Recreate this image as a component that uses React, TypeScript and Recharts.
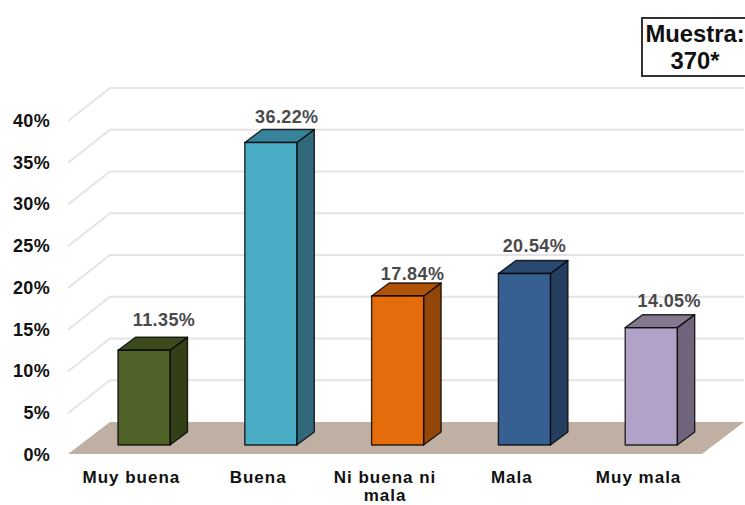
import React from "react";
import { BarChart, Bar, XAxis, YAxis, CartesianGrid, LabelList } from "recharts";

const categories = ["Muy buena", "Buena", "Ni buena ni mala", "Mala", "Muy mala"];
const values = [11.35, 36.22, 17.84, 20.54, 14.05];
const yTicks = [0, 5, 10, 15, 20, 25, 30, 35, 40];
const sampleLines = ["Muestra:", "370*"];

const frontColors = ["#4F6228", "#4BACC6", "#E46C0A", "#376092", "#B3A2C7"];
const sideColors = ["#333F17", "#31697A", "#93460A", "#233E5F", "#6F647C"];
const topColors = ["#3C4A1E", "#388399", "#AF5308", "#2A4970", "#84788F"];
const labelNudgeX = [20, 16, 15, 10, 18];
const labelNudgeY = [30, 26, 22, 27, 27];

const data = categories.map((name, i) => ({ name, value: values[i] }));

const FONT = '"Liberation Sans", Arial, sans-serif';
const PLOT_BOTTOM = 454;
const DEPTH_X = 42;
const DEPTH_Y = 32;
const BAR_DX = 17.5;
const BAR_DY = 13;
const SHIFT_X = 13;
const SHIFT_Y = 9;
const MAX_LINE_CHARS = 12;

const wrapWords = (label: string) => {
  const lines: string[] = [];
  label.split(" ").forEach((word) => {
    const last = lines[lines.length - 1];
    if (last !== undefined && (last + " " + word).length <= MAX_LINE_CHARS) {
      lines[lines.length - 1] = last + " " + word;
    } else {
      lines.push(word);
    }
  });
  return lines;
};

const Bar3D = (props: any) => {
  const { x, y, width, height, index } = props;
  const l = x + SHIFT_X;
  const r = l + width;
  const t = y - SHIFT_Y;
  const b = t + height;
  const stroke = { stroke: "#000", strokeOpacity: 0.8, strokeWidth: 1.4, strokeLinejoin: "round" as const };
  return (
    <g>
      <polygon points={`${r},${t} ${r + BAR_DX},${t - BAR_DY} ${r + BAR_DX},${b - BAR_DY} ${r},${b}`} fill={sideColors[index]} {...stroke} />
      <polygon points={`${l},${t} ${l + BAR_DX},${t - BAR_DY} ${r + BAR_DX},${t - BAR_DY} ${r},${t}`} fill={topColors[index]} {...stroke} />
      <rect x={l} y={t} width={width} height={height} fill={frontColors[index]} {...stroke} />
    </g>
  );
};

const ValueLabel = (props: any) => {
  const { x, y, width, index, value } = props;
  return (
    <text
      x={x + width / 2 + SHIFT_X + labelNudgeX[index]}
      y={y - SHIFT_Y - labelNudgeY[index] + 6}
      textAnchor="middle"
      fontFamily={FONT}
      fontWeight={700}
      fontSize={18}
      letterSpacing={0.4}
      fill="#4a4a4a"
    >
      {`${Number(value).toFixed(2)}%`}
    </text>
  );
};

const GridLine = (props: any) => {
  const { x1, x2, y1, index } = props;
  if (y1 >= PLOT_BOTTOM) {
    return (
      <polygon
        key={index}
        points={`${x1},${y1} ${x1 + DEPTH_X},${y1 - DEPTH_Y} ${x2 + DEPTH_X},${y1 - DEPTH_Y} ${x2},${y1}`}
        fill="#C0B0A3"
      />
    );
  }
  return (
    <polyline
      key={index}
      points={`${x1},${y1 + 1} ${x1 + DEPTH_X},${y1 - DEPTH_Y} ${x2 + DEPTH_X},${y1 - DEPTH_Y}`}
      fill="none"
      stroke="#e4e4e4"
      strokeWidth={1.8}
    />
  );
};

const CategoryTick = (props: any) => {
  const { x, payload } = props;
  return (
    <text textAnchor="middle" fontFamily={FONT} fontWeight={700} fontSize={17} letterSpacing={1} fill="#111">
      {wrapWords(payload.value).map((line, i) => (
        <tspan key={line} x={x} y={PLOT_BOTTOM + 28.5 + i * 18.5}>
          {line}
        </tspan>
      ))}
    </text>
  );
};

export default function App() {
  return (
    <div style={{ position: "absolute", left: 0, top: 0, width: 745, height: 505, overflow: "hidden", background: "#fff" }}>
      <BarChart
        width={745}
        height={505}
        data={data}
        margin={{ top: 120, right: 43, bottom: 0, left: 0 }}
        style={{ position: "absolute", left: 0, top: 0 }}
      >
        <CartesianGrid horizontal={GridLine as any} vertical={false} />
        <XAxis
          dataKey="name"
          axisLine={false}
          tickLine={false}
          height={51}
          interval={0}
          tickSize={0}
          tick={CategoryTick as any}
        />
        <YAxis
          width={68}
          domain={[0, 40]}
          ticks={yTicks}
          axisLine={false}
          tickLine={false}
          tickSize={0}
          tickMargin={18}
          interval={0}
          tickFormatter={(v: number) => `${v}%`}
          tick={{ fontFamily: FONT, fontWeight: 700, fontSize: 18, letterSpacing: 0.3, fill: "#111", dy: 0.5 }}
        />
        <Bar dataKey="value" barSize={52} isAnimationActive={false} shape={Bar3D as any}>
          <LabelList dataKey="value" content={ValueLabel as any} />
        </Bar>
      </BarChart>
      <div
        style={{
          position: "absolute",
          left: 641,
          top: 17,
          width: 108,
          height: 60,
          boxSizing: "border-box",
          border: "2px solid #333",
          background: "#fff",
          fontFamily: FONT,
          fontWeight: 700,
          fontSize: 23.8,
          lineHeight: "27px",
          textAlign: "center",
          color: "#111",
          paddingTop: 1,
          paddingRight: 0,
        }}
      >
        {sampleLines.map((s) => (
          <div key={s}>{s}</div>
        ))}
      </div>
    </div>
  );
}
